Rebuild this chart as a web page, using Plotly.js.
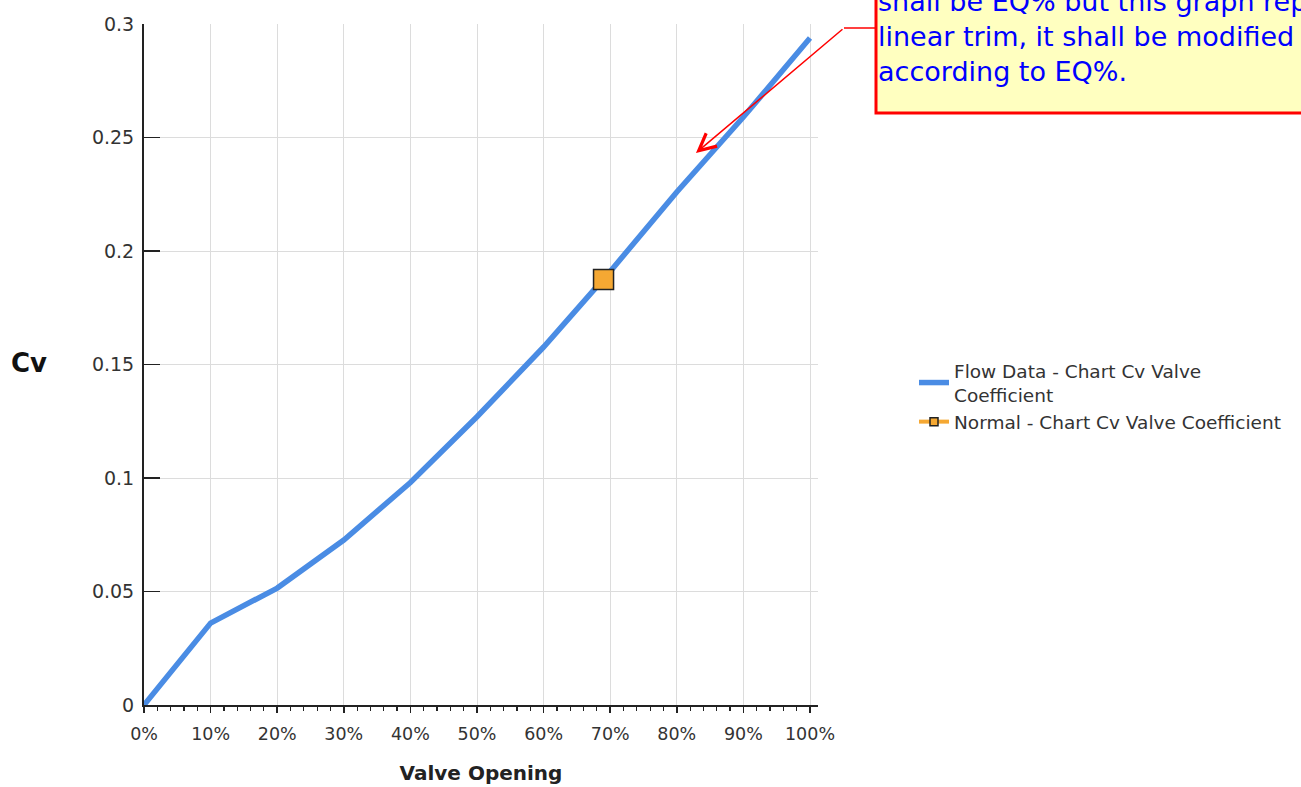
<!DOCTYPE html>
<html>
<head>
<meta charset="utf-8">
<script src="https://cdn.plot.ly/plotly-3.0.1.min.js"></script>
<style>
html,body{margin:0;padding:0;background:#fff;}
#chart{width:1301px;height:787px;}
</style>
</head>
<body>
<div id="chart"></div>
<script>
// ---- data ----
const valveOpening = [0, 0.1, 0.2, 0.3, 0.4, 0.5, 0.6, 0.7, 0.8, 0.9, 1.0];
const flowCv       = [0, 0.0361, 0.0515, 0.0727, 0.0980, 0.1270, 0.1577, 0.1910, 0.2260, 0.2590, 0.2938];
const normalOpening = [0.69];
const normalCv      = [0.1874];
const xTickVals = [0, 0.1, 0.2, 0.3, 0.4, 0.5, 0.6, 0.7, 0.8, 0.9, 1.0];
const xTickText = ['0%', '10%', '20%', '30%', '40%', '50%', '60%', '70%', '80%', '90%', '100%'];
const yTickVals = [0, 0.05, 0.1, 0.15, 0.2, 0.25, 0.3];
const yTickText = ['0', '0.05', '0.1', '0.15', '0.2', '0.25', '0.3'];
const flowName = 'Flow Data - Chart Cv Valve<br>Coefficient';
const normalName = 'Normal - Chart Cv Valve Coefficient';
const noteLines = ['shall be EQ% but this graph represents', 'linear trim, it shall be modified', 'according to EQ%.'];
const arrowTarget = {x: 0.8288, y: 0.2432};

const FONT = 'DejaVu Sans, Verdana, sans-serif';
const BLUE = '#4A8CE4';
const ORANGE = '#F5A833';

// pixel helpers for paper-referenced decorations
const L = 144, R = 818, T = 24, B = 705;
const px = p => (p - L) / (R - L);
const py = p => (B - p) / (B - T);

const traces = [
  {
    x: valveOpening, y: flowCv, type: 'scatter', mode: 'lines',
    name: flowName,
    line: {color: BLUE, width: 5.5},
    hoverinfo: 'skip'
  },
  {
    x: normalOpening, y: normalCv, type: 'scatter', mode: 'lines+markers',
    name: normalName,
    line: {color: ORANGE, width: 4},
    marker: {symbol: 'square', size: 8, color: ORANGE, line: {color: '#222', width: 1.5}},
    hoverinfo: 'skip'
  },
  {
    x: normalOpening, y: normalCv, type: 'scatter', mode: 'markers',
    name: normalName, showlegend: false,
    marker: {symbol: 'square', size: 20, color: ORANGE, line: {color: '#222', width: 1.5}},
    hoverinfo: 'skip'
  }
];

const layout = {
  width: 1301, height: 787,
  paper_bgcolor: '#fff', plot_bgcolor: '#fff',
  margin: {l: L, r: 1301 - R, t: T, b: 787 - B, pad: 0},
  font: {family: FONT, color: '#333'},
  showlegend: true,
  legend: {
    x: px(914), y: py(352), xanchor: 'left', yanchor: 'top',
    font: {family: FONT, size: 18.5, color: '#333'},
    bgcolor: 'rgba(0,0,0,0)', tracegroupgap: 4, valign: 'middle'
  },
  xaxis: {
    range: [0, (R - L) / 666],
    tickvals: xTickVals, ticktext: xTickText,
    showline: true, linecolor: '#222', linewidth: 2,
    ticks: 'outside', ticklen: 6, tickwidth: 1.5, tickcolor: '#222',
    minor: {dtick: 0.02, ticks: 'outside', ticklen: 4, tickwidth: 1.2, tickcolor: '#222', showgrid: false},
    showgrid: true, gridcolor: '#dcdcdc', gridwidth: 1,
    zeroline: false,
    tickfont: {family: FONT, size: 17.5, color: '#333'},
    ticklabelstandoff: 6,
    title: {text: '<b>Valve Opening</b>', font: {family: FONT, size: 20, color: '#222'}, standoff: 23},
    fixedrange: true
  },
  yaxis: {
    range: [0, 0.3],
    tickvals: yTickVals, ticktext: yTickText,
    showline: true, linecolor: '#222', linewidth: 2,
    ticks: 'inside', ticklen: 16, tickwidth: 1.5, tickcolor: '#222',
    showgrid: true, gridcolor: '#dcdcdc', gridwidth: 1,
    zeroline: false,
    tickfont: {family: FONT, size: 19, color: '#333'},
    ticklabelstandoff: 4,
    fixedrange: true
  },
  shapes: [
    {type: 'rect', xref: 'paper', yref: 'paper',
     x0: px(876), x1: px(1330), y0: py(113), y1: py(-30),
     fillcolor: '#FFFFC0', line: {color: '#FF0000', width: 3}, layer: 'above'},
    {type: 'line', xref: 'paper', yref: 'paper',
     x0: px(844), x1: px(876), y0: py(28), y1: py(28),
     line: {color: '#FF0000', width: 1.5}, layer: 'above'}
  ],
  annotations: [
    {xref: 'paper', yref: 'paper', x: px(876), y: py(89), xanchor: 'left', yanchor: 'bottom',
     align: 'left', showarrow: false, text: noteLines.join('<br>'),
     font: {family: FONT, size: 27, color: '#0000FF'}},
    {xref: 'x', yref: 'y', x: arrowTarget.x, y: arrowTarget.y,
     ax: 148, ay: -125, axref: 'pixel', ayref: 'pixel',
     showarrow: true, arrowhead: 5, arrowsize: 2.2, arrowwidth: 1.5, arrowcolor: '#FF0000', text: ''},
    {xref: 'paper', yref: 'paper', x: px(29), y: py(363), xanchor: 'center', yanchor: 'middle',
     showarrow: false, text: '<b>Cv</b>', font: {family: FONT, size: 26, color: '#111'}}
  ]
};

Plotly.newPlot('chart', traces, layout, {displayModeBar: false, staticPlot: true});
</script>
</body>
</html>
